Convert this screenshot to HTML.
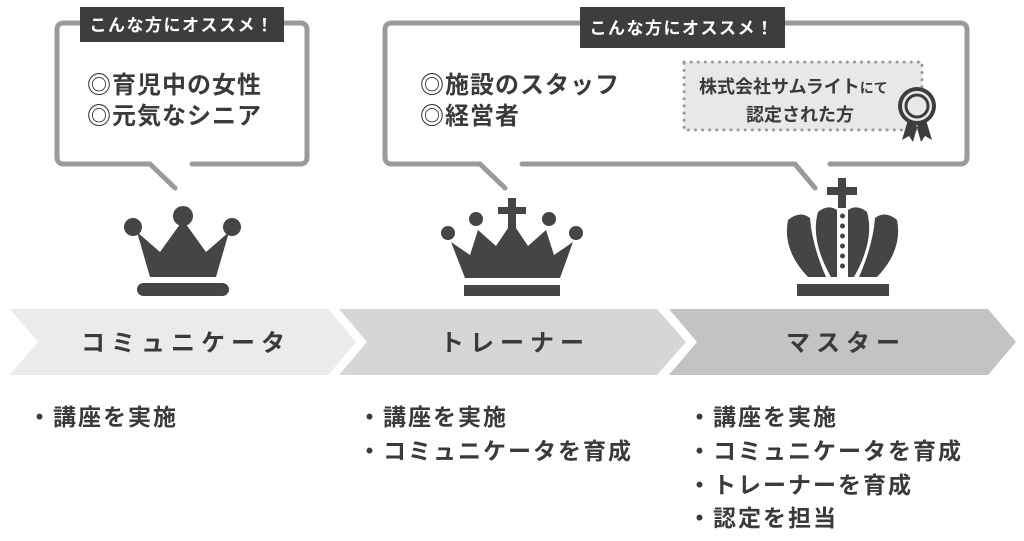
<!DOCTYPE html>
<html><head><meta charset="utf-8"><style>
body{margin:0;background:#fff;}
svg text{font-family:"Liberation Sans","Noto Sans CJK JP",sans-serif;font-weight:bold;fill:#3a3a3a;}
</style></head><body>
<svg width="1024" height="536" viewBox="0 0 1024 536" xmlns="http://www.w3.org/2000/svg">
<!-- bubble 1 -->
<path d="M150,164 H64 Q57,164 57,157 V30 Q57,23 64,23 H300 Q307,23 307,30 V157 Q307,164 300,164 H192" fill="none" stroke="#9a9a9a" stroke-width="5" stroke-linecap="round"/>
<path d="M150,164 L175,188" stroke="#9a9a9a" stroke-width="5" stroke-linecap="round"/>
<rect x="80" y="7" width="204" height="35" fill="#3d3d3d"/>
<text x="182" y="31" font-size="17" text-anchor="middle" style="fill:#fff" letter-spacing="1.5">こんな方にオススメ！</text>
<text x="87" y="93" font-size="24" letter-spacing="1">◎育児中の女性</text>
<text x="87" y="124" font-size="24" letter-spacing="1">◎元気なシニア</text>
<!-- bubble 2 -->
<path d="M480,164 H392 Q385,164 385,157 V30 Q385,23 392,23 H960 Q967,23 967,30 V157 Q967,164 960,164 H830 M795,164 H522" fill="none" stroke="#9a9a9a" stroke-width="5" stroke-linecap="round"/>
<path d="M480,164 L505,188 M795,164 L815,188" stroke="#9a9a9a" stroke-width="5" stroke-linecap="round"/>
<rect x="580" y="7" width="205" height="41" fill="#3d3d3d"/>
<text x="682" y="34" font-size="17" text-anchor="middle" style="fill:#fff" letter-spacing="1.5">こんな方にオススメ！</text>
<text x="420" y="93" font-size="24" letter-spacing="1">◎施設のスタッフ</text>
<text x="420" y="124" font-size="24" letter-spacing="1">◎経営者</text>
<rect x="684" y="62" width="238" height="68" fill="#e8e8e8" stroke="#999" stroke-width="3" stroke-dasharray="0.1 7" stroke-linecap="round"/>
<text x="699" y="93" font-size="18">株式会社サムライト<tspan font-size="14">にて</tspan></text>
<text x="800" y="121" font-size="18" text-anchor="middle">認定された方</text>
<!-- medal -->
<path d="M908,120 L902,140 L909,136 L913,142 L918,124 Z M926,120 L932,140 L925,136 L921,142 L916,124 Z" fill="#3d3d3d"/>
<circle cx="917" cy="106" r="19" fill="#3d3d3d"/>
<circle cx="917" cy="106" r="15" fill="#e8e8e8"/>
<circle cx="917" cy="106" r="11" fill="none" stroke="#3d3d3d" stroke-width="3"/>
<!-- crown 1 -->
<g fill="#454545">
<circle cx="183" cy="216" r="10"/><circle cx="133" cy="227" r="9"/><circle cx="232" cy="227" r="9"/>
<path d="M137,232 L160,252 L183,220 L206,252 L229,232 L216,277 H150 Z"/>
<rect x="137" y="283" width="92" height="13" rx="6.5"/>
<!-- crown 2 -->
<rect x="508" y="198" width="8" height="34"/><rect x="498" y="207" width="28" height="7"/>
<circle cx="448" cy="233" r="7"/><circle cx="476" cy="219" r="7"/><circle cx="549" cy="219" r="7"/><circle cx="576" cy="233" r="7"/>
<path d="M451,242 L470,255 L478,230 L496,246 L512,222 L528,246 L546,230 L554,255 L573,242 L560,278 H465 Z"/>
<rect x="464" y="285" width="96" height="11"/>
<!-- crown 3 -->
<rect x="838" y="178" width="8" height="30"/><rect x="827" y="187" width="30" height="8"/>
<path d="M808,277 Q782,250 788,220 Q800,210 810,218 Q812,245 826,277 Z"/>
<path d="M831,277 Q810,240 818,212 Q828,204 837,210 L837,277 Z"/>
<path d="M877,277 Q903,250 897,220 Q885,210 875,218 Q873,245 859,277 Z"/>
<path d="M854,277 Q875,240 867,212 Q857,204 848,210 L848,277 Z"/>
<rect x="797" y="284" width="92" height="12"/>
</g>
<g fill="#454545"><circle cx="842.5" cy="216" r="2.5"/><circle cx="842.5" cy="226" r="2.5"/><circle cx="842.5" cy="236" r="2.5"/><circle cx="842.5" cy="246" r="2.5"/><circle cx="842.5" cy="256" r="2.5"/><circle cx="842.5" cy="266" r="2.5"/></g>
<!-- chevrons -->
<polygon points="10,309 328,309 356,342 328,375 10,375 38,342" fill="#ebebeb"/>
<polygon points="339,309 657,309 686,342 657,375 339,375 367,342" fill="#d6d6d6"/>
<polygon points="669,309 988,309 1016,342 988,375 669,375 697,342" fill="#c3c3c3"/>
<text x="186" y="351" font-size="24" text-anchor="middle" letter-spacing="6">コミュニケータ</text>
<text x="515" y="351" font-size="24" text-anchor="middle" letter-spacing="6">トレーナー</text>
<text x="846" y="351" font-size="24" text-anchor="middle" letter-spacing="6">マスター</text>
<!-- lists -->
<g font-size="23" letter-spacing="2">
<text x="28" y="425">・講座を実施</text>
<text x="358" y="425">・講座を実施</text>
<text x="358" y="459">・コミュニケータを育成</text>
<text x="688" y="425">・講座を実施</text>
<text x="688" y="459">・コミュニケータを育成</text>
<text x="688" y="493">・トレーナーを育成</text>
<text x="688" y="526">・認定を担当</text>
</g>
</svg>
</body></html>
